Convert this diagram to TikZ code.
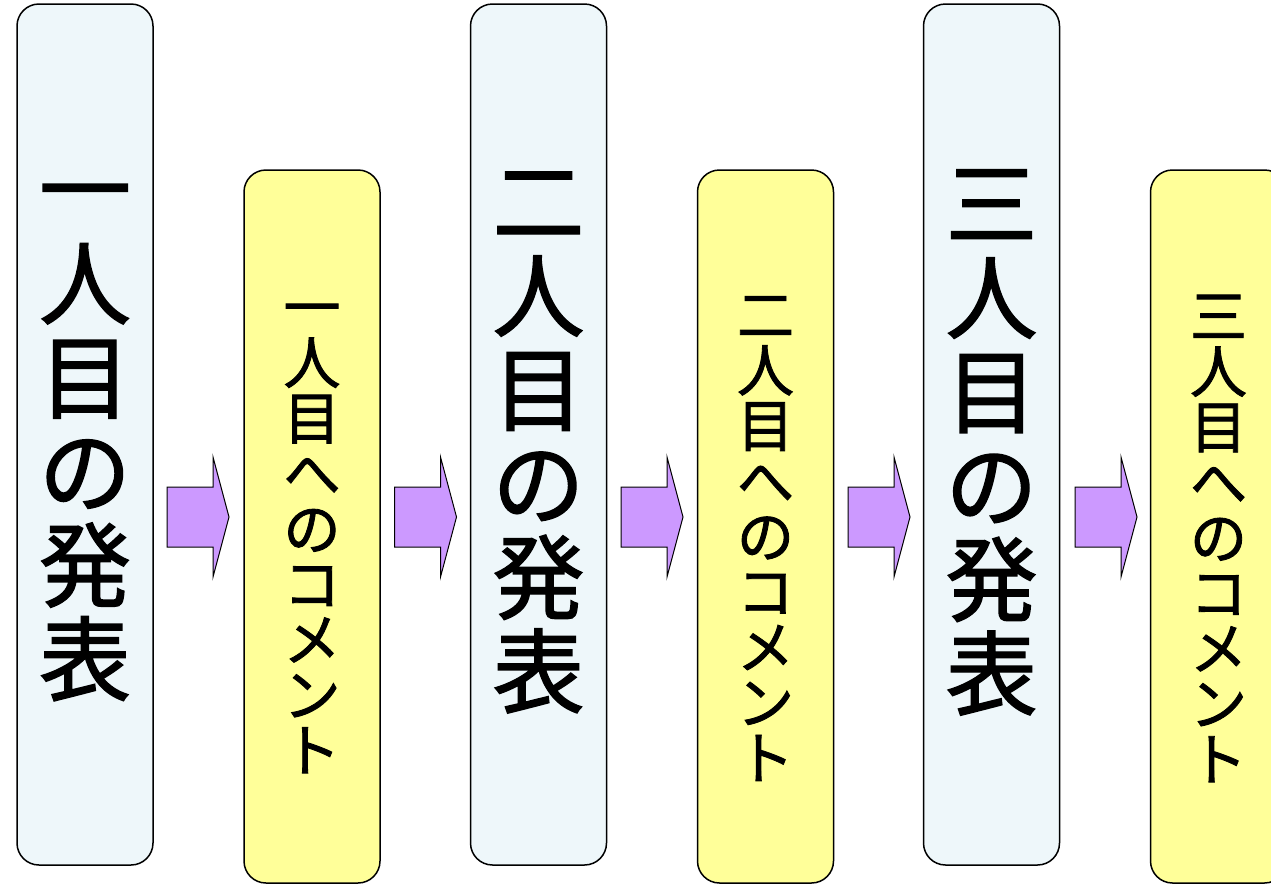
\documentclass[tikz,border=0pt]{standalone}
\usepackage{fontspec}
\newfontfamily\jpfont[FakeBold=1.5]{Noto Sans CJK JP}
\definecolor{talkfill}{HTML}{EEF7FA}
\definecolor{notefill}{HTML}{FFFF99}
\definecolor{arrowfill}{HTML}{CC99FF}
\tikzset{
  talk/.style={draw,line width=1.5pt,rounded corners=22pt,fill=talkfill,
    minimum width=136pt,minimum height=861pt,inner sep=0pt},
  note/.style={draw,line width=1.5pt,rounded corners=22pt,fill=notefill,
    minimum width=136pt,minimum height=713pt,inner sep=0pt},
  talktext/.style={inner sep=0pt,align=center,
    font=\jpfont\fontsize{92}{94}\selectfont},
  notetext/.style={inner sep=0pt,align=center,
    font=\jpfont\fontsize{57}{55.4}\selectfont},
  flowarrow/.style={draw,line width=1pt,fill=arrowfill,line join=miter}
}
\begin{document}
\begin{tikzpicture}[x=1pt,y=-1pt]
\useasboundingbox (0,0) rectangle (1271,884);
\node[talk] (talk1) at (85,434.5) {};
\node[note] (note1) at (312,526.5) {};
\node[talk] (talk2) at (538.5,434.5) {};
\node[note] (note2) at (765.5,526.5) {};
\node[talk] (talk3) at (991.5,434.5) {};
\node[note] (note3) at (1218.5,526.5) {};
% box texts
\node[talktext] (talk1text) at (85,442.5) {一\\人\\目\\の\\発\\表};
\node[notetext] (note1text) at (312,538.5) {一\\人\\目\\へ\\の\\コ\\メ\\ン\\ト};
\node[talktext] (talk2text) at (538.5,442.5) {二\\人\\目\\の\\発\\表};
\node[notetext] (note2text) at (765.5,538.5) {二\\人\\目\\へ\\の\\コ\\メ\\ン\\ト};
\node[talktext] (talk3text) at (991.5,442.5) {三\\人\\目\\の\\発\\表};
\node[notetext] (note3text) at (1218.5,538.5) {三\\人\\目\\へ\\の\\コ\\メ\\ン\\ト};
% block arrows
\foreach \ax in {167,394.5,621,848,1075}
{
    \draw[flowarrow] (\ax,487) -- ++(46,0) -- ++(0,-30) -- ++(16,60)
      -- ++(-16,60) -- ++(0,-30) -- ++(-46,0) -- cycle;
}
\end{tikzpicture}
\end{document}
